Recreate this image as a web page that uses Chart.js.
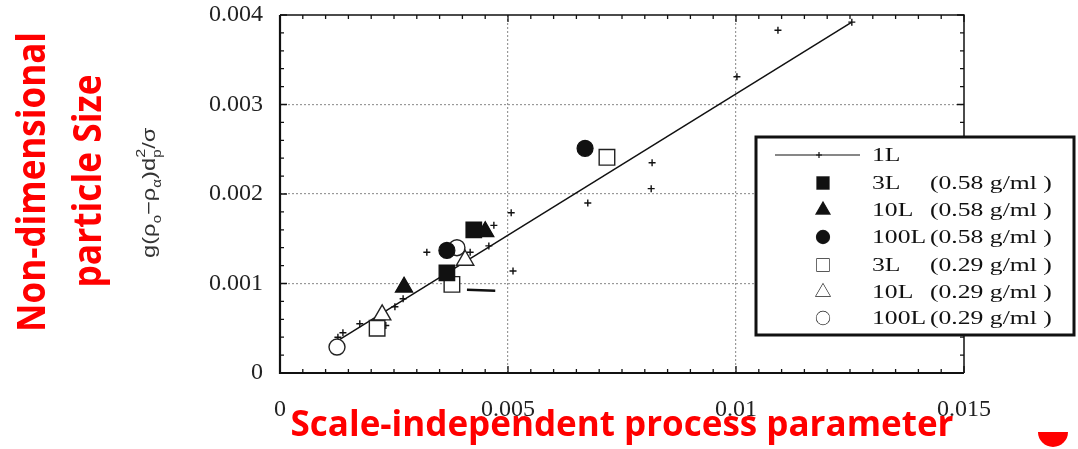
<!DOCTYPE html>
<html>
<head>
<meta charset="utf-8">
<script src="https://cdn.jsdelivr.net/npm/chart.js@4"></script>
<style>
  html, body { margin: 0; padding: 0; background: #fff; }
  canvas { display: block; }
</style>
</head>
<body>
<canvas id="sizeChart" width="1078" height="449"></canvas>
<script>
// axis ticks
const xTickLabels = ['0', '0.005', '0.01', '0.015'];
const yTickLabels = ['0', '0.001', '0.002', '0.003', '0.004'];

// 1L data (small crosses) and its fit line
const oneLX = [0.01092, 0.01002, 0.00816, 0.00814, 0.00675, 0.00507, 0.00511, 0.00469, 0.00458, 0.00417, 0.00322, 0.00270, 0.00252, 0.00232, 0.00175, 0.00138, 0.00127, 0.01254];
const oneLY = [0.00383, 0.00331, 0.00235, 0.00206, 0.00190, 0.00179, 0.00114, 0.00165, 0.00142, 0.00135, 0.00135, 0.00083, 0.00074, 0.00053, 0.00055, 0.00045, 0.00040, 0.00392];
const fitX = [0.00118, 0.01254];
const fitY = [0.000335, 0.00392];

// 0.58 g/ml
const sq58X = [0.00366, 0.00425];
const sq58Y = [0.00112, 0.00160];
const tri58X = [0.00272, 0.00450];
const tri58Y = [0.00096, 0.00158];
const circ58X = [0.00366, 0.00669];
const circ58Y = [0.00137, 0.00251];

// 0.29 g/ml
const sq29X = [0.00377, 0.00213, 0.00717];
const sq29Y = [0.00099, 0.00050, 0.00241];
const tri29X = [0.00406, 0.00224];
const tri29Y = [0.00126, 0.00065];
const circ29X = [0.00388, 0.00125];
const circ29Y = [0.00140, 0.00029];

// short pointer mark below the cluster
const markX = [0.00410, 0.00472];
const markY = [0.00093, 0.00092];

const zip = (xs, ys) => xs.map((x, i) => ({ x: x, y: ys[i] }));

const legendRows = [
    { name: '3L', note: '(0.58 g/ml )', style: 'rect', fill: true },
    { name: '10L', note: '(0.58 g/ml )', style: 'triangle', fill: true },
    { name: '100L', note: '(0.58 g/ml )', style: 'circle', fill: true },
    { name: '3L', note: '(0.29 g/ml )', style: 'rect', fill: false },
    { name: '10L', note: '(0.29 g/ml )', style: 'triangle', fill: false },
    { name: '100L', note: '(0.29 g/ml )', style: 'circle', fill: false }
];

const isMajor = (v, step) => Math.abs(v / step - Math.round(v / step)) < 1e-6;

// frame + inward tick marks
const framePlugin = {
    id: 'frame',
    beforeDatasetsDraw(chart) {
        const { ctx, chartArea: a, scales } = chart;
        ctx.save();
        ctx.strokeStyle = '#111';
        ctx.lineWidth = 1.3;
        scales.x.ticks.forEach(t => {
            const px = scales.x.getPixelForValue(t.value);
            const len = isMajor(t.value, 0.005) ? 7 : 4;
            ctx.beginPath();
            ctx.moveTo(px, a.bottom); ctx.lineTo(px, a.bottom - len);
            ctx.moveTo(px, a.top); ctx.lineTo(px, a.top + len);
            ctx.stroke();
        });
        scales.y.ticks.forEach(t => {
            const py = scales.y.getPixelForValue(t.value);
            const len = isMajor(t.value, 0.001) ? 7 : 4;
            ctx.beginPath();
            ctx.moveTo(a.left, py); ctx.lineTo(a.left + len, py);
            ctx.moveTo(a.right, py); ctx.lineTo(a.right - len, py);
            ctx.stroke();
        });
        ctx.lineWidth = 1.5;
        ctx.beginPath();
        ctx.moveTo(a.left, a.top); ctx.lineTo(a.right, a.top); ctx.lineTo(a.right, a.bottom);
        ctx.stroke();
        ctx.lineWidth = 2.2;
        ctx.beginPath();
        ctx.moveTo(a.left, a.top); ctx.lineTo(a.left, a.bottom); ctx.lineTo(a.right, a.bottom);
        ctx.stroke();
        ctx.restore();
    }
};

// legend box, titles and formula
const overlayPlugin = {
    id: 'overlay',
    afterDraw(chart) {
        const ctx = chart.ctx;
        ctx.save();

        // legend box
        ctx.fillStyle = '#fff';
        ctx.fillRect(755, 136, 320, 200);
        ctx.strokeStyle = '#111';
        ctx.lineWidth = 3;
        ctx.strokeRect(756, 137, 318, 198);

        ctx.lineWidth = 1.2;
        ctx.beginPath();
        ctx.moveTo(775, 155); ctx.lineTo(860, 155);
        ctx.stroke();
        Chart.helpers.drawPoint(ctx, { pointStyle: 'cross', radius: 3, borderWidth: 1.2 }, 819, 155);

        ctx.font = '19px "Liberation Serif"';
        ctx.textBaseline = 'middle';
        ctx.fillStyle = '#111';
        const drawWide = (txt, x, y) => {
            ctx.save();
            ctx.translate(x, y);
            ctx.scale(1.35, 1);
            ctx.fillText(txt, 0, 0);
            ctx.restore();
        };
        drawWide('1L', 872, 156);
        const rowY = [183, 210, 237, 265, 292, 318];
        legendRows.forEach((r, i) => {
            ctx.fillStyle = r.fill ? '#111' : '#fff';
            ctx.strokeStyle = '#222';
            ctx.lineWidth = 1.3;
            const rad = r.style === 'rect' ? 8.5 : (r.style === 'triangle' ? 8 : 6.5);
            Chart.helpers.drawPoint(ctx, { pointStyle: r.style, radius: rad, borderWidth: 1.3 }, 823, rowY[i]);
            ctx.fill();
            ctx.fillStyle = '#111';
            drawWide(r.name, 872, rowY[i] + 1);
            const nameW = ctx.measureText(r.name).width * 1.35;
            drawWide(r.note, Math.max(930, 872 + nameW), rowY[i] + 1);
        });

        // red axis titles
        ctx.fillStyle = '#ff0000';
        ctx.font = 'bold 35px "Open Sans"';
        ctx.textAlign = 'center';
        ctx.textBaseline = 'alphabetic';
        ctx.fillText('Scale-independent process parameter', 622, 436, 672);

        ctx.font = 'bold 39px "Open Sans"';
        ctx.save();
        ctx.translate(45, 182);
        ctx.rotate(-Math.PI / 2);
        ctx.fillText('Non-dimensional', 0, 0, 300);
        ctx.restore();
        ctx.save();
        ctx.translate(101, 181);
        ctx.rotate(-Math.PI / 2);
        ctx.fillText('particle Size', 0, 0, 213);
        ctx.restore();

        // original axis formula g(ρo−ρα)dp²/σ
        ctx.save();
        ctx.translate(155, 258);
        ctx.rotate(-Math.PI / 2);
        ctx.scale(1.25, 1);
        ctx.fillStyle = '#333';
        ctx.textAlign = 'left';
        let cx = 0;
        const piece = (txt, size, dy) => {
            ctx.font = size + 'px "Liberation Sans"';
            ctx.fillText(txt, cx, dy);
            return ctx.measureText(txt).width;
        };
        cx += piece('g(ρ', 19, 0);
        cx += piece('o', 12, 6);
        cx += piece('−ρ', 19, 0);
        cx += piece('α', 12, 6);
        cx += piece(')d', 19, 0);
        const pw = piece('p', 12, 6);
        const sw = piece('2', 13, -10);
        cx += Math.max(pw, sw);
        piece('/σ', 19, 0);
        ctx.restore();

        // red blob at bottom right
        ctx.fillStyle = '#ff0000';
        ctx.beginPath();
        ctx.arc(1053, 432, 15, 0, Math.PI);
        ctx.closePath();
        ctx.fill();

        ctx.restore();
    }
};

const ctx = document.getElementById('sizeChart').getContext('2d');

const filled = { backgroundColor: '#111', borderColor: '#111', borderWidth: 1.2 };
const hollow = { backgroundColor: '#fff', borderColor: '#222', borderWidth: 1.4 };

new Chart(ctx, {
    type: 'scatter',
    data: {
        datasets: [
            { label: '3L (0.58 g/ml)', data: zip(sq58X, sq58Y), pointStyle: 'rect', pointRadius: 11, ...filled },
            { label: '10L (0.58 g/ml)', data: zip(tri58X, tri58Y), pointStyle: 'triangle', pointRadius: 10, ...filled },
            { label: '100L (0.58 g/ml)', data: zip(circ58X, circ58Y), pointStyle: 'circle', pointRadius: 8, ...filled },
            { label: '3L (0.29 g/ml)', data: zip(sq29X, sq29Y), pointStyle: 'rect', pointRadius: 11, ...hollow },
            { label: '10L (0.29 g/ml)', data: zip(tri29X, tri29Y), pointStyle: 'triangle', pointRadius: 10, ...hollow },
            { label: '100L (0.29 g/ml)', data: zip(circ29X, circ29Y), pointStyle: 'circle', pointRadius: 8, ...hollow },
            { label: '1L', data: zip(oneLX, oneLY), pointStyle: 'cross', pointRadius: 3.5, borderColor: '#111', borderWidth: 1.4 },
            { label: 'mark', data: zip(markX, markY), showLine: true, borderColor: '#111', borderWidth: 2.5, pointRadius: 0 },
            { label: '1L fit', data: zip(fitX, fitY), showLine: true, borderColor: '#111', borderWidth: 1.5, pointRadius: 0 }
        ]
    },
    options: {
        responsive: false,
        animation: false,
        devicePixelRatio: 1,
        layout: { padding: { left: 0, top: 0, right: 114, bottom: 0 } },
        scales: {
            x: {
                type: 'linear',
                min: 0,
                max: 0.015,
                afterFit: s => { s.height = 76; },
                border: { display: false, dash: [2, 2] },
                grid: {
                    drawTicks: false,
                    color: c => (c.tick && isMajor(c.tick.value, 0.005) && c.tick.value > 0 && c.tick.value < 0.015) ? '#999' : 'transparent',
                    lineWidth: 1.2
                },
                ticks: {
                    stepSize: 0.0005,
                    autoSkip: false,
                    maxRotation: 0,
                    padding: 22,
                    color: '#222',
                    font: { family: '"Liberation Serif"', size: 24 },
                    callback: v => isMajor(v, 0.005) ? xTickLabels[Math.round(v / 0.005)] : ''
                }
            },
            y: {
                type: 'linear',
                min: 0,
                max: 0.004,
                afterFit: s => { s.width = 280; s.paddingTop = 15; s.paddingBottom = 0; },
                border: { display: false, dash: [2, 2] },
                grid: {
                    drawTicks: false,
                    color: c => (c.tick && isMajor(c.tick.value, 0.001) && c.tick.value > 0 && c.tick.value < 0.004) ? '#999' : 'transparent',
                    lineWidth: 1.2
                },
                ticks: {
                    stepSize: 0.0002,
                    autoSkip: false,
                    padding: 17,
                    color: '#222',
                    font: { family: '"Liberation Serif"', size: 24 },
                    callback: v => isMajor(v, 0.001) ? yTickLabels[Math.round(v / 0.001)] : ''
                }
            }
        },
        plugins: {
            legend: { display: false },
            tooltip: { enabled: false }
        }
    },
    plugins: [framePlugin, overlayPlugin]
});
</script>
</body>
</html>
